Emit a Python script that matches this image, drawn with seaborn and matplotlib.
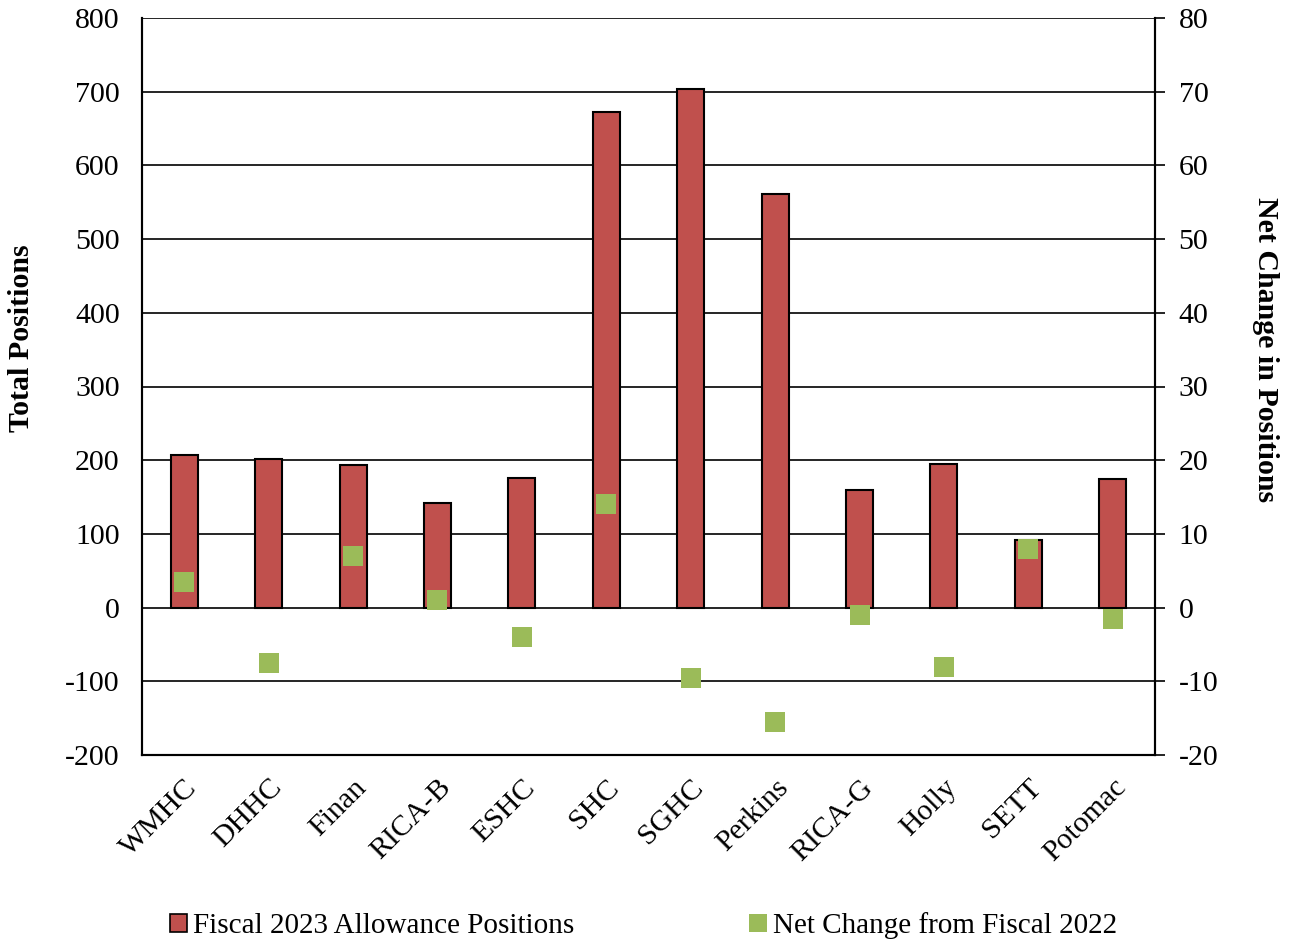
import matplotlib
matplotlib.use("Agg")
import matplotlib.pyplot as plt
import seaborn as sns
import pandas as pd
from matplotlib.patches import Patch

categories = ["WMHC", "DHHC", "Finan", "RICA-B", "ESHC", "SHC", "SGHC",
              "Perkins", "RICA-G", "Holly", "SETT", "Potomac"]
allowance_2023 = [207, 202, 194, 142, 176, 672, 704, 561, 159, 195, 92, 175]
net_change = [3.5, -7.5, 7, 1, -4, 14, -9.5, -15.5, -1, -8, 8, -1.5]
left_ticks = [-200, -100, 0, 100, 200, 300, 400, 500, 600, 700, 800]
right_ticks = [-20, -10, 0, 10, 20, 30, 40, 50, 60, 70, 80]

bar_label = "Fiscal 2023 Allowance Positions"
pt_label = "Net Change from Fiscal 2022"

sns.set_style("white")
plt.rcParams["font.family"] = ["Liberation Serif", "DejaVu Serif"]
plt.rcParams["font.size"] = 21.5
plt.rcParams["text.color"] = "black"
plt.rcParams["xtick.color"] = "black"
plt.rcParams["ytick.color"] = "black"
plt.rcParams["axes.labelcolor"] = "black"

df = pd.DataFrame({"cat": categories, "allow": allowance_2023, "net": net_change})

fig = plt.figure(figsize=(12.92, 9.4), dpi=100)
ax = fig.add_axes([142 / 1292, 185 / 940, (1155 - 142) / 1292, (755 - 18) / 940])

red = "#C0504D"
green = "#9BBB59"
fs = 21.5

sns.barplot(data=df, x="cat", y="allow", ax=ax, color=red, width=0.32,
            edgecolor="black", linewidth=1.5, saturation=1, zorder=3)
ax.set_ylim(-200, 800)
ax.set_yticks(left_ticks)
ax.set_yticklabels([str(t) for t in left_ticks])
ax.set_xlim(-0.5, len(categories) - 0.5)
ax.grid(axis="y", color="black", linewidth=1.2, zorder=0)
ax.set_axisbelow(True)
ax.set_xlabel("")
ax.set_ylabel("")
ax.tick_params(axis="y", length=0, pad=16, labelsize=fs, labelcolor="black")
ax.tick_params(axis="x", length=0, pad=14, labelsize=fs, labelcolor="black")
plt.setp(ax.get_xticklabels(), rotation=45, ha="right", rotation_mode="anchor")
for s in ["left", "bottom", "right"]:
    ax.spines[s].set_color("black")
    ax.spines[s].set_linewidth(1.5)
ax.spines["top"].set_visible(False)

ax2 = ax.twinx()
sns.stripplot(data=df, x="cat", y="net", ax=ax2, color=green, marker="s",
              size=13.7, linewidth=0, jitter=False, zorder=4)
ax2.set_ylim(-20, 80)
ax2.set_yticks(right_ticks)
ax2.set_yticklabels([str(t) for t in right_ticks])
ax2.set_xlim(-0.5, len(categories) - 0.5)
ax2.set_ylabel("")
ax2.set_xlabel("")
ax2.tick_params(axis="y", direction="out", length=7, width=1.2, color="black",
                pad=10, labelsize=fs, labelcolor="black", right=True)
for s in ["left", "bottom", "right"]:
    ax2.spines[s].set_color("black")
    ax2.spines[s].set_linewidth(1.5)
ax2.spines["top"].set_visible(False)
ax2.grid(False)

fig.text(22 / 1292, 1 - 338 / 940, "Total Positions", rotation=90,
         ha="center", va="center", fontsize=fs, fontweight="bold")
fig.text(1266 / 1292, 1 - 350 / 940, "Net Change in Positions", rotation=270,
         ha="center", va="center", fontsize=fs, fontweight="bold")

handles = [Patch(facecolor=red, edgecolor="black", linewidth=1.2, label=bar_label),
           Patch(facecolor=green, edgecolor="none", label=pt_label)]
fig.legend(handles=handles, loc="center", bbox_to_anchor=(0.498, 1 - 926 / 940),
           ncol=2, frameon=False, fontsize=21, handlelength=0.6,
           handleheight=0.6, handletextpad=0.2, columnspacing=6.0)

fig.savefig("out.png", dpi=100)
